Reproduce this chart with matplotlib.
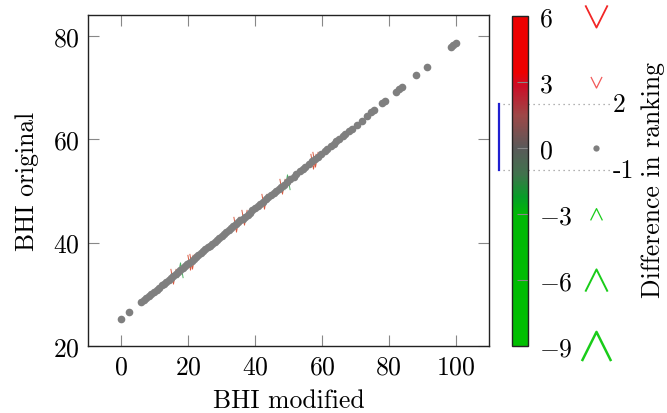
import numpy as np
import matplotlib
matplotlib.use("Agg")
import matplotlib.pyplot as plt
from matplotlib.colors import LinearSegmentedColormap, Normalize
from matplotlib.path import Path
import matplotlib.cm as cm

plt.rcParams['font.family'] = 'serif'
plt.rcParams['font.serif'] = ['cmr10']
plt.rcParams['mathtext.fontset'] = 'cm'
plt.rcParams['axes.formatter.use_mathtext'] = True
plt.rcParams['axes.unicode_minus'] = True

# ---- data ----
bhi_modified = [0.0, 2.4, 6.0, 6.8, 7.5, 8.3, 9.0, 9.8, 10.5, 11.2, 12.0, 12.6, 13.3, 14.1,
                14.8, 15.5, 16.2, 16.9, 17.6, 18.3, 19.0, 19.7, 20.3, 21.0, 21.6, 22.3,
                23.0, 23.7, 24.4, 25.1, 25.8, 26.5, 27.2, 27.9, 28.6, 29.3, 30.0, 30.7,
                31.4, 32.1, 32.8, 33.5, 34.2, 34.9, 35.6, 36.3, 37.0, 37.8, 38.5, 39.2,
                40.0, 40.8, 41.5, 42.3, 43.3, 44.0, 44.8, 45.6, 46.3, 47.1, 47.9, 48.6,
                49.5, 50.5, 51.5, 52.3, 53.4, 54.3, 55.0, 56.0, 57.0, 57.8, 58.8, 59.8,
                60.8, 61.6, 62.6, 63.5, 64.3, 65.2, 66.2, 67.0, 68.0, 68.9, 70.4, 71.9,
                73.4, 74.8, 75.7, 78.1, 79.0, 82.3, 83.2, 84.1, 88.3, 91.3, 98.6, 99.3, 100.0]
bhi_original = [25.3, 26.6, 28.5, 28.9, 29.3, 29.7, 30.1, 30.5, 30.9, 31.3, 31.7, 32.0, 32.4, 32.8,
                33.2, 33.6, 33.9, 34.3, 34.7, 35.1, 35.4, 35.8, 36.1, 36.5, 36.8, 37.2,
                37.6, 38.0, 38.3, 38.7, 39.1, 39.4, 39.8, 40.2, 40.5, 40.9, 41.3, 41.7,
                42.0, 42.4, 42.8, 43.2, 43.5, 43.9, 44.3, 44.6, 45.0, 45.4, 45.8, 46.2,
                46.6, 47.0, 47.4, 47.8, 48.4, 48.8, 49.2, 49.6, 50.0, 50.4, 50.8, 51.2,
                51.7, 52.2, 52.7, 53.2, 53.8, 54.2, 54.6, 55.1, 55.7, 56.1, 56.6, 57.2,
                57.7, 58.1, 58.7, 59.1, 59.6, 60.0, 60.6, 61.0, 61.5, 62.0, 62.8, 63.6,
                64.4, 65.2, 65.6, 66.9, 67.4, 69.2, 69.6, 70.1, 72.4, 74.0, 77.9, 78.2, 78.6]

changed_modified = [15.3, 17.4, 20.4, 21.0, 34.4, 36.8, 42.8, 48.0, 49.7, 57.2, 58.0]
changed_original = [33.5, 34.6, 36.2, 36.5, 43.6, 44.9, 48.1, 50.9, 51.8, 55.8, 56.2]
changed_diff = [2, -2, 2, 2, 2, 2, 2, 2, -2, 2, 2]

legend_values = [6, 3, 0, -3, -6, -9]
cbar_ticks = [6, 3, 0, -3, -6, -9]
band_values = [2, -1]
x_ticks = [0, 20, 40, 60, 80, 100]
y_ticks = [20, 40, 60, 80]

FS = 18.5

# ---- colormap ----
cmap = LinearSegmentedColormap.from_list('rank', [
    (0.00, (0.00, 0.75, 0.00)),
    (0.40, (0.00, 0.72, 0.02)),
    (0.45, (0.02, 0.62, 0.15)),
    (0.52, (0.25, 0.45, 0.30)),
    (0.60, (0.35, 0.35, 0.35)),
    (0.70, (0.62, 0.28, 0.28)),
    (0.79, (0.80, 0.05, 0.15)),
    (0.83, (0.93, 0.00, 0.00)),
    (1.00, (0.93, 0.00, 0.00)),
])
norm = Normalize(-9, 6)

W, H = 667, 414
fig = plt.figure(figsize=(W / 100, H / 100), dpi=100)

ax_l, ax_r, ax_t, ax_b = 88, 489, 16, 347
ax = fig.add_axes([ax_l / W, 1 - ax_b / H, (ax_r - ax_l) / W, (ax_b - ax_t) / H])

vpath = Path([(-1, 1), (0, -1), (1, 1)], [Path.MOVETO, Path.LINETO, Path.LINETO])
upath = Path([(-1, -1), (0, 1), (1, -1)], [Path.MOVETO, Path.LINETO, Path.LINETO])
vpath_narrow = Path([(-0.35, 1), (0, -1), (0.35, 1)], [Path.MOVETO, Path.LINETO, Path.LINETO])
upath_narrow = Path([(-0.35, -1), (0, 1), (0.35, -1)], [Path.MOVETO, Path.LINETO, Path.LINETO])

for xm, ym, d in zip(changed_modified, changed_original, changed_diff):
    ax.plot([xm], [ym], marker=vpath_narrow if d > 0 else upath_narrow, markersize=5.5 * abs(d),
            markerfacecolor='none',
            markeredgecolor=(0.85, 0.35, 0.25) if d > 0 else (0.3, 0.7, 0.4),
            markeredgewidth=0.7, linestyle='none', zorder=2)

ax.plot(bhi_modified, bhi_original, 'o', color='#7f7f7f', markersize=5.5, markeredgewidth=0, zorder=3)

ax.set_xlim(-10, 110)
ax.set_ylim(20, 84)
ax.set_xticks(x_ticks)
ax.set_yticks(y_ticks)
ax.tick_params(direction='in', length=8, width=0.8, color='#888888', labelsize=FS,
               top=True, right=True, pad=6)
for s in ax.spines.values():
    s.set_linewidth(1.0)
    s.set_color('#222222')
ax.set_xlabel('BHI modified', fontsize=FS, labelpad=7)
ax.set_ylabel('BHI original', fontsize=FS, labelpad=10)

# ---- legend overlay axes ----
cb_l, cb_r, cb_t, cb_b = 512, 528, 17, 347
axl = fig.add_axes([490 / W, 1 - cb_b / H, (W - 490) / W, (cb_b - cb_t) / H])
axl.set_xlim(490, W)
axl.set_ylim(-9, 6)
axl.axis('off')
axl.set_zorder(0)

for v in band_values:
    axl.plot([503, 613], [v, v], linestyle=(0, (1, 3)), color='#999999', lw=0.9)
    axl.text(613, v, str(v), fontsize=FS, va='center', ha='left')
axl.plot([499, 499], band_values, color='#2020d0', lw=1.6)

for v in legend_values:
    if v > 0:
        axl.plot([596], [v], marker=vpath, markersize=16 if v == 6 else 8, markerfacecolor='none',
                 markeredgecolor=(0.95, 0.15, 0.15) if v == 6 else (0.95, 0.35, 0.35),
                 markeredgewidth=1.3 if v == 6 else 0.9, linestyle='none', clip_on=False)
    elif v < 0:
        axl.plot([596], [v], marker=upath, markersize={-3: 8.5, -6: 16, -9: 21}[v],
                 markerfacecolor='none',
                 markeredgecolor=(0.1, 0.8, 0.1),
                 markeredgewidth={-3: 0.9, -6: 1.4, -9: 1.8}[v], linestyle='none', clip_on=False)
    else:
        axl.plot([596], [v], 'o', color='#7f7f7f', markersize=4.5, markeredgewidth=0, clip_on=False)

# ---- colorbar ----
cax = fig.add_axes([cb_l / W, 1 - cb_b / H, (cb_r - cb_l) / W, (cb_b - cb_t) / H])
cax.set_zorder(2)
cb = fig.colorbar(cm.ScalarMappable(norm=norm, cmap=cmap), cax=cax)
cb.set_ticks(cbar_ticks)
cb.outline.set_linewidth(1.0)
cb.outline.set_edgecolor('#222222')
cax.tick_params(direction='in', length=8, width=0.8, color='#888888', labelsize=FS, pad=8)

fig.text(653 / W, 1 - 180 / H, 'Difference in ranking', rotation=90, fontsize=FS,
         ha='center', va='center')

fig.savefig('out.png', dpi=100)
